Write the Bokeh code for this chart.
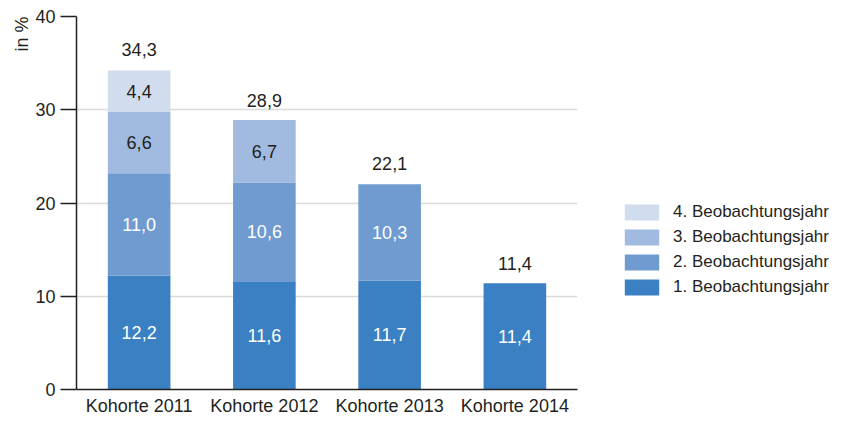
from bokeh.plotting import figure
from bokeh.layouts import row
from bokeh.models import (FactorRange, Range1d, FixedTicker, Title,
                          ColumnDataSource, Legend, LegendItem)
from bokeh.core.properties import value
from bokeh.embed import file_html
from bokeh.resources import INLINE

# ---- data ----
cohorts = ["Kohorte 2011", "Kohorte 2012", "Kohorte 2013", "Kohorte 2014"]
year1 = [12.2, 11.6, 11.7, 11.4]
year2 = [11.0, 10.6, 10.3, 0.0]
year3 = [6.6, 6.7, 0.0, 0.0]
year4 = [4.4, 0.0, 0.0, 0.0]
totals = [34.3, 28.9, 22.1, 11.4]
series_names = ["1. Beobachtungsjahr", "2. Beobachtungsjahr",
                "3. Beobachtungsjahr", "4. Beobachtungsjahr"]
y_ticks = [0, 10, 20, 30, 40]
grid_ticks = [10, 20, 30]

# ---- styles ----
colors = ["#3a80c3", "#709bd1", "#a0bae0", "#d1ddef"]
label_colors = ["#ffffff", "#ffffff", "#231f20", "#231f20"]
TXT = "#231f20"
FONT = "Liberation Sans"
FS = "18px"
H = 418
W_MAIN = 582
W_LEG = 837 - W_MAIN

def fmt(v):
    return f"{v:.1f}".replace(".", ",")

src = ColumnDataSource(dict(cat=cohorts, y1=year1, y2=year2, y3=year3, y4=year4))

p = figure(x_range=FactorRange(factors=cohorts, range_padding=0),
           y_range=Range1d(0, 40), width=W_MAIN, height=H,
           output_backend="svg", toolbar_location=None,
           min_border_left=76, min_border_right=5, min_border_top=16,
           min_border_bottom=0)
p.outline_line_color = None

p.vbar_stack(["y1", "y2", "y3", "y4"], x="cat", width=0.5,
             color=colors, line_color=None, source=src)

# y axis
ya = p.yaxis[0]
ya.ticker = FixedTicker(ticks=y_ticks)
ya.major_tick_out = 16
ya.major_tick_in = 0
ya.minor_tick_line_color = None
ya.axis_line_color = TXT
ya.axis_line_width = 1.5
ya.major_tick_line_color = TXT
ya.major_tick_line_width = 1.5
ya.major_label_text_font = FONT
ya.major_label_text_font_size = FS
ya.major_label_text_color = TXT
ya.major_label_standoff = 5

# x axis
xa = p.xaxis[0]
xa.major_tick_out = 0
xa.major_tick_in = 0
xa.axis_line_color = TXT
xa.axis_line_width = 1.5
xa.major_label_text_font = FONT
xa.major_label_text_font_size = FS
xa.major_label_text_color = TXT
xa.major_label_standoff = 6

p.xgrid.visible = False
p.ygrid.ticker = FixedTicker(ticks=grid_ticks)
p.ygrid.grid_line_color = "#dadada"
p.ygrid.grid_line_width = 1.5

# y axis title at the top-left
p.add_layout(Title(text="in %", align="right", text_font=FONT, text_font_size=FS,
                   text_font_style="normal", text_color=TXT, standoff=2), "left")

# segment labels
seg_x, seg_y, seg_t, seg_c = [], [], [], []
series = [year1, year2, year3, year4]
for i, c in enumerate(cohorts):
    base = 0.0
    for k, s in enumerate(series):
        v = s[i]
        if v > 0:
            seg_x.append(c)
            seg_y.append(base + v / 2)
            seg_t.append(fmt(v))
            seg_c.append(label_colors[k])
        base += v
seg_src = ColumnDataSource(dict(x=seg_x, y=seg_y, t=seg_t, c=seg_c))
p.text(x="x", y="y", text="t", text_color="c", source=seg_src,
       text_align="center", text_baseline="middle",
       text_font=value(FONT), text_font_size=FS)

# totals
tot_src = ColumnDataSource(dict(x=cohorts, y=totals, t=[fmt(v) for v in totals]))
p.text(x="x", y="y", text="t", source=tot_src, y_offset=-20,
       text_align="center", text_baseline="middle", text_color=TXT,
       text_font=value(FONT), text_font_size=FS)

# legend figure (same series with zero-width bars out of view; only the legend shows)
lf = figure(width=W_LEG, height=H, output_backend="svg", toolbar_location=None,
            x_axis_location=None, y_axis_location=None,
            x_range=FactorRange(factors=cohorts), y_range=Range1d(10000, 10001),
            min_border_left=0, min_border_right=0, min_border_top=0,
            min_border_bottom=0)
lf.outline_line_color = None
lf.xgrid.visible = False
lf.ygrid.visible = False
leg_r = lf.vbar_stack(["y1", "y2", "y3", "y4"], x="cat", width=0,
                      color=colors, line_color=None, source=src)
items = [LegendItem(label=series_names[k], renderers=[leg_r[k]]) for k in range(3, -1, -1)]
legend = Legend(items=items, location=(38, 92), padding=0, margin=0,
                spacing=5, glyph_width=43, glyph_height=20, label_standoff=10,
                border_line_color=None, background_fill_alpha=0,
                label_text_font=FONT, label_text_font_size="17px",
                label_text_color=TXT, label_height=20)
lf.add_layout(legend)

layout = row(p, lf, spacing=0)
open("out.html", "w").write(file_html(layout, INLINE))
